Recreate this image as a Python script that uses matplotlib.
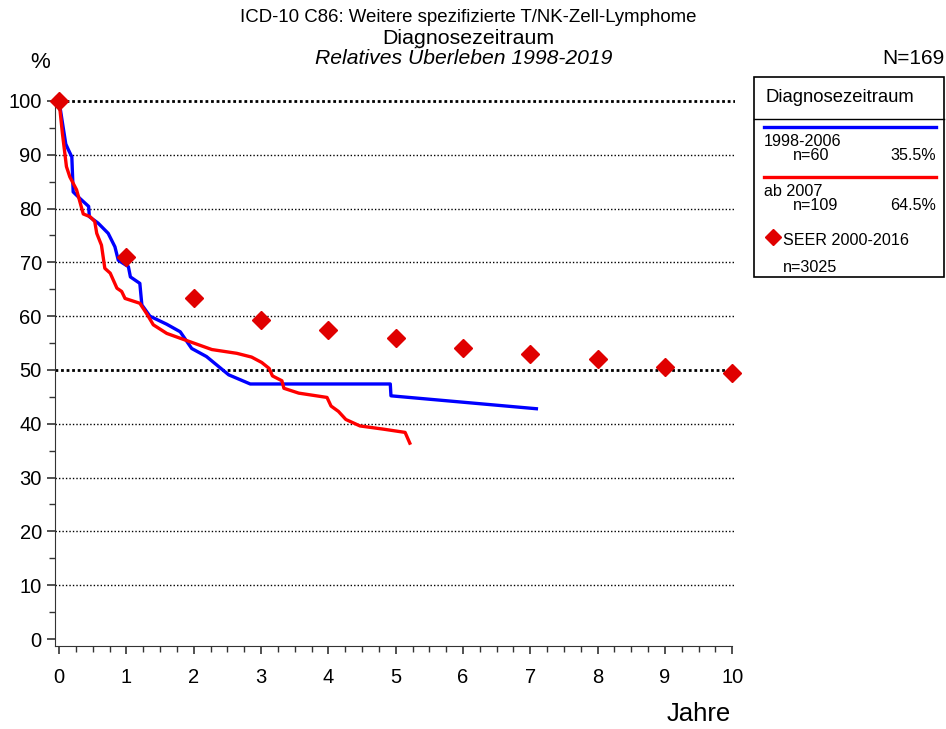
import matplotlib
matplotlib.use('Agg')
import matplotlib.pyplot as plt
from matplotlib.lines import Line2D
from matplotlib.ticker import MultipleLocator

plt.rcParams['font.family'] = ['Liberation Sans', 'DejaVu Sans']

# Relatives Überleben
blue_t = [0, 0.05, 0.10, 0.14, 0.19, 0.21, 0.30, 0.44, 0.45, 0.58, 0.73, 0.83, 0.88, 1.03,
          1.06, 1.20, 1.23, 1.35, 1.60, 1.80, 1.97, 2.19, 2.52, 2.84, 4.92, 4.93, 7.09]
blue_s = [100, 96, 92, 90.9, 89.6, 83.1, 82, 80.4, 78.5, 77.3, 75.4, 72.9, 70.4, 69.2,
          67.3, 66.1, 62.1, 60.0, 58.5, 57.1, 54.0, 52.5, 49.1, 47.4, 47.4, 45.2, 42.8]

red_t = [0, 0.05, 0.11, 0.16, 0.26, 0.36, 0.46, 0.53, 0.56, 0.63, 0.68, 0.76, 0.86, 0.93,
         0.98, 1.20, 1.30, 1.40, 1.60, 1.80, 2.27, 2.64, 2.86, 3.01, 3.12, 3.17, 3.31, 3.34,
         3.56, 3.98, 4.04, 4.15, 4.26, 4.47, 4.82, 5.14, 5.21]
red_s = [100, 94, 87.8, 85.9, 83.5, 79.0, 78.5, 77.6, 75.4, 73.2, 68.9, 68.0, 65.2, 64.6,
         63.3, 62.4, 60.5, 58.4, 56.8, 55.9, 53.8, 53.1, 52.4, 51.4, 50.3, 48.9, 48.0, 46.6,
         45.7, 44.9, 43.3, 42.3, 40.8, 39.6, 39.0, 38.4, 36.4]

seer_t = [0, 1, 2, 3, 4, 5, 6, 7, 8, 9, 10]
seer_s = [100, 71.0, 63.4, 59.3, 57.4, 55.9, 54.1, 53.0, 52.0, 50.6, 49.4]

fig = plt.figure(figsize=(9.46, 7.29), dpi=100)
ax = fig.add_axes([55/946, 83/729, 680/946, 550.4/729])
ax.set_xlim(-0.06, 10.04)
ax.set_ylim(-1.3, 101)

# Gitterlinien
for y in range(10, 101, 10):
    if y in (50, 100):
        ax.axhline(y, color='black', ls=(0, (1, 1)), lw=2.0, zorder=1)
    else:
        ax.axhline(y, color='black', ls=(0, (1, 1.5)), lw=1.0, zorder=1)

ax.plot(blue_t, blue_s, color='#0000ff', lw=2.4, zorder=3)
ax.plot(red_t, red_s, color='#ff0000', lw=2.4, zorder=4)
ax.plot(seer_t, seer_s, ls='none', marker='D', color='#e00000', ms=9, zorder=5,
        clip_on=False)

for s in ['top', 'right']:
    ax.spines[s].set_visible(False)
ax.spines['bottom'].set_bounds(-0.06, 10)
ax.spines['left'].set_color('#333333')
ax.spines['bottom'].set_color('#333333')

ax.xaxis.set_major_locator(MultipleLocator(1))
ax.xaxis.set_minor_locator(MultipleLocator(0.25))
ax.yaxis.set_major_locator(MultipleLocator(10))
ax.yaxis.set_minor_locator(MultipleLocator(5))
ax.tick_params(which='major', length=6, width=1.2, labelsize=14.5, color='#333333')
ax.tick_params(which='minor', length=4, width=1, color='#333333')
ax.tick_params(axis='x', pad=10)
ax.set_xticks(range(0, 11))
ax.set_yticks(range(0, 101, 10))

fig.text(468/946, 1 - 18/729, 'ICD-10 C86: Weitere spezifizierte T/NK-Zell-Lymphome',
         ha='center', va='center', fontsize=13.4)
fig.text(468/946, 1 - 38/729, 'Diagnosezeitraum', ha='center', va='center', fontsize=15.4)
fig.text(464/946, 1 - 58/729, 'Relatives Überleben 1998-2019', ha='center', va='center',
         fontsize=15.2, style='italic')
fig.text(944/946, 1 - 59/729, 'N=169', ha='right', va='center', fontsize=15)
fig.text(40/946, 1 - 63/729, '%', ha='center', va='center', fontsize=16)
fig.text(731/946, 1 - 714/729, 'Jahre', ha='right', va='center', fontsize=18.5)

# Legende als Kasten
W, H = 946, 729
def fx(px): return px / W
def fy(py): return 1 - py / H

fig.add_artist(plt.Rectangle((fx(754), fy(277)), fx(944) - fx(754), fy(77) - fy(277),
                             fill=False, ec='black', lw=1.2, transform=fig.transFigure))
fig.add_artist(Line2D([fx(754), fx(944)], [fy(119), fy(119)], color='black', lw=1))
fig.text(fx(765), fy(97), 'Diagnosezeitraum', ha='left', va='center', fontsize=13.3)
fig.add_artist(Line2D([fx(764), fx(936)], [fy(127), fy(127)], color='#0000ff', lw=2.4))
fig.text(fx(764), fy(141), '1998-2006', ha='left', va='center', fontsize=11.6)
fig.text(fx(793), fy(156), 'n=60', ha='left', va='center', fontsize=11.6)
fig.text(fx(936), fy(156), '35.5%', ha='right', va='center', fontsize=11.6)
fig.add_artist(Line2D([fx(764), fx(936)], [fy(177), fy(177)], color='#ff0000', lw=2.4))
fig.text(fx(764), fy(191), 'ab 2007', ha='left', va='center', fontsize=11.6)
fig.text(fx(793), fy(206), 'n=109', ha='left', va='center', fontsize=11.6)
fig.text(fx(936), fy(206), '64.5%', ha='right', va='center', fontsize=11.6)
fig.add_artist(Line2D([fx(773)], [fy(237)], ls='none', marker='D', color='#e00000', ms=8))
fig.text(fx(783), fy(240), 'SEER 2000-2016', ha='left', va='center', fontsize=11.6)
fig.text(fx(783), fy(267), 'n=3025', ha='left', va='center', fontsize=11.6)

fig.savefig('out.png', dpi=100)
